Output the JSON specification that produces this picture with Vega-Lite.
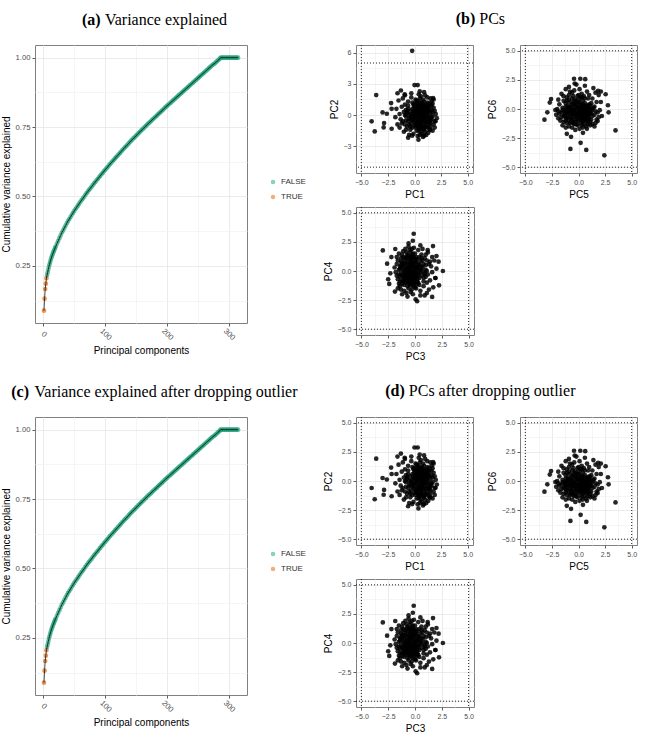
{
  "$schema": "https://vega.github.io/schema/vega-lite/v6.json",
  "padding": {"left": 0, "top": 11, "right": 5, "bottom": 5},
  "background": "white",
  "datasets": {
    "cut": [{"v": -5}, {"v": 5}],
    "cumvar": [
      {"k":1,"v":0.089,"flag":"TRUE"},{"k":2,"v":0.132,"flag":"TRUE"},{"k":3,"v":0.167,"flag":"TRUE"},{"k":4,"v":0.186,"flag":"TRUE"},{"k":5,"v":0.206,"flag":"TRUE"},
      {"k":6,"v":0.217,"flag":"FALSE"},{"k":7,"v":0.227,"flag":"FALSE"},{"k":8,"v":0.237,"flag":"FALSE"},{"k":9,"v":0.247,"flag":"FALSE"},{"k":10,"v":0.256,"flag":"FALSE"},
      {"k":11,"v":0.264,"flag":"FALSE"},{"k":12,"v":0.272,"flag":"FALSE"},{"k":13,"v":0.279,"flag":"FALSE"},{"k":14,"v":0.286,"flag":"FALSE"},{"k":15,"v":0.292,"flag":"FALSE"},
      {"k":16,"v":0.298,"flag":"FALSE"},{"k":17,"v":0.304,"flag":"FALSE"},{"k":18,"v":0.309,"flag":"FALSE"},{"k":19,"v":0.315,"flag":"FALSE"},{"k":20,"v":0.320,"flag":"FALSE"},
      {"k":22,"v":0.330,"flag":"FALSE"},{"k":24,"v":0.340,"flag":"FALSE"},{"k":26,"v":0.350,"flag":"FALSE"},{"k":28,"v":0.360,"flag":"FALSE"},{"k":30,"v":0.370,"flag":"FALSE"},
      {"k":32,"v":0.378,"flag":"FALSE"},{"k":34,"v":0.387,"flag":"FALSE"},{"k":36,"v":0.395,"flag":"FALSE"},{"k":38,"v":0.404,"flag":"FALSE"},{"k":40,"v":0.412,"flag":"FALSE"},
      {"k":42,"v":0.419,"flag":"FALSE"},{"k":44,"v":0.426,"flag":"FALSE"},{"k":46,"v":0.434,"flag":"FALSE"},{"k":48,"v":0.441,"flag":"FALSE"},{"k":50,"v":0.448,"flag":"FALSE"},
      {"k":52,"v":0.455,"flag":"FALSE"},{"k":54,"v":0.461,"flag":"FALSE"},{"k":56,"v":0.468,"flag":"FALSE"},{"k":58,"v":0.474,"flag":"FALSE"},{"k":60,"v":0.481,"flag":"FALSE"},
      {"k":62,"v":0.487,"flag":"FALSE"},{"k":64,"v":0.493,"flag":"FALSE"},{"k":66,"v":0.499,"flag":"FALSE"},{"k":68,"v":0.506,"flag":"FALSE"},{"k":70,"v":0.512,"flag":"FALSE"},
      {"k":72,"v":0.518,"flag":"FALSE"},{"k":74,"v":0.524,"flag":"FALSE"},{"k":76,"v":0.529,"flag":"FALSE"},{"k":78,"v":0.535,"flag":"FALSE"},{"k":80,"v":0.541,"flag":"FALSE"},
      {"k":82,"v":0.547,"flag":"FALSE"},{"k":84,"v":0.552,"flag":"FALSE"},{"k":86,"v":0.558,"flag":"FALSE"},{"k":88,"v":0.563,"flag":"FALSE"},{"k":90,"v":0.569,"flag":"FALSE"},
      {"k":92,"v":0.574,"flag":"FALSE"},{"k":94,"v":0.580,"flag":"FALSE"},{"k":96,"v":0.585,"flag":"FALSE"},{"k":98,"v":0.591,"flag":"FALSE"},{"k":100,"v":0.596,"flag":"FALSE"},
      {"k":102,"v":0.601,"flag":"FALSE"},{"k":104,"v":0.606,"flag":"FALSE"},{"k":106,"v":0.612,"flag":"FALSE"},{"k":108,"v":0.617,"flag":"FALSE"},{"k":110,"v":0.622,"flag":"FALSE"},
      {"k":112,"v":0.627,"flag":"FALSE"},{"k":114,"v":0.632,"flag":"FALSE"},{"k":116,"v":0.637,"flag":"FALSE"},{"k":118,"v":0.642,"flag":"FALSE"},{"k":120,"v":0.647,"flag":"FALSE"},
      {"k":122,"v":0.652,"flag":"FALSE"},{"k":124,"v":0.657,"flag":"FALSE"},{"k":126,"v":0.662,"flag":"FALSE"},{"k":128,"v":0.667,"flag":"FALSE"},{"k":130,"v":0.672,"flag":"FALSE"},
      {"k":132,"v":0.677,"flag":"FALSE"},{"k":134,"v":0.681,"flag":"FALSE"},{"k":136,"v":0.686,"flag":"FALSE"},{"k":138,"v":0.691,"flag":"FALSE"},{"k":140,"v":0.696,"flag":"FALSE"},
      {"k":142,"v":0.701,"flag":"FALSE"},{"k":144,"v":0.705,"flag":"FALSE"},{"k":146,"v":0.710,"flag":"FALSE"},{"k":148,"v":0.714,"flag":"FALSE"},{"k":150,"v":0.719,"flag":"FALSE"},
      {"k":152,"v":0.723,"flag":"FALSE"},{"k":154,"v":0.728,"flag":"FALSE"},{"k":156,"v":0.732,"flag":"FALSE"},{"k":158,"v":0.737,"flag":"FALSE"},{"k":160,"v":0.741,"flag":"FALSE"},
      {"k":162,"v":0.745,"flag":"FALSE"},{"k":164,"v":0.750,"flag":"FALSE"},{"k":166,"v":0.754,"flag":"FALSE"},{"k":168,"v":0.759,"flag":"FALSE"},{"k":170,"v":0.763,"flag":"FALSE"},
      {"k":172,"v":0.767,"flag":"FALSE"},{"k":174,"v":0.771,"flag":"FALSE"},{"k":176,"v":0.776,"flag":"FALSE"},{"k":178,"v":0.780,"flag":"FALSE"},{"k":180,"v":0.784,"flag":"FALSE"},
      {"k":182,"v":0.788,"flag":"FALSE"},{"k":184,"v":0.792,"flag":"FALSE"},{"k":186,"v":0.797,"flag":"FALSE"},{"k":188,"v":0.801,"flag":"FALSE"},{"k":190,"v":0.805,"flag":"FALSE"},
      {"k":192,"v":0.809,"flag":"FALSE"},{"k":194,"v":0.813,"flag":"FALSE"},{"k":196,"v":0.818,"flag":"FALSE"},{"k":198,"v":0.822,"flag":"FALSE"},{"k":200,"v":0.826,"flag":"FALSE"},
      {"k":202,"v":0.830,"flag":"FALSE"},{"k":204,"v":0.834,"flag":"FALSE"},{"k":206,"v":0.838,"flag":"FALSE"},{"k":208,"v":0.842,"flag":"FALSE"},{"k":210,"v":0.846,"flag":"FALSE"},
      {"k":212,"v":0.850,"flag":"FALSE"},{"k":214,"v":0.854,"flag":"FALSE"},{"k":216,"v":0.858,"flag":"FALSE"},{"k":218,"v":0.862,"flag":"FALSE"},{"k":220,"v":0.866,"flag":"FALSE"},
      {"k":222,"v":0.870,"flag":"FALSE"},{"k":224,"v":0.874,"flag":"FALSE"},{"k":226,"v":0.878,"flag":"FALSE"},{"k":228,"v":0.882,"flag":"FALSE"},{"k":230,"v":0.886,"flag":"FALSE"},
      {"k":232,"v":0.890,"flag":"FALSE"},{"k":234,"v":0.894,"flag":"FALSE"},{"k":236,"v":0.898,"flag":"FALSE"},{"k":238,"v":0.902,"flag":"FALSE"},{"k":240,"v":0.906,"flag":"FALSE"},
      {"k":242,"v":0.910,"flag":"FALSE"},{"k":244,"v":0.914,"flag":"FALSE"},{"k":246,"v":0.918,"flag":"FALSE"},{"k":248,"v":0.922,"flag":"FALSE"},{"k":250,"v":0.926,"flag":"FALSE"},
      {"k":252,"v":0.930,"flag":"FALSE"},{"k":254,"v":0.934,"flag":"FALSE"},{"k":256,"v":0.938,"flag":"FALSE"},{"k":258,"v":0.942,"flag":"FALSE"},{"k":260,"v":0.946,"flag":"FALSE"},
      {"k":262,"v":0.950,"flag":"FALSE"},{"k":264,"v":0.954,"flag":"FALSE"},{"k":266,"v":0.958,"flag":"FALSE"},{"k":268,"v":0.962,"flag":"FALSE"},{"k":270,"v":0.966,"flag":"FALSE"},
      {"k":272,"v":0.970,"flag":"FALSE"},{"k":274,"v":0.974,"flag":"FALSE"},{"k":276,"v":0.977,"flag":"FALSE"},{"k":278,"v":0.981,"flag":"FALSE"},{"k":280,"v":0.985,"flag":"FALSE"},
      {"k":282,"v":0.989,"flag":"FALSE"},{"k":284,"v":0.993,"flag":"FALSE"},{"k":286,"v":0.997,"flag":"FALSE"},{"k":287,"v":1.0,"flag":"FALSE"},
      {"k":289,"v":1.0,"flag":"FALSE"},{"k":291,"v":1.0,"flag":"FALSE"},{"k":293,"v":1.0,"flag":"FALSE"},{"k":295,"v":1.0,"flag":"FALSE"},{"k":297,"v":1.0,"flag":"FALSE"},
      {"k":299,"v":1.0,"flag":"FALSE"},{"k":301,"v":1.0,"flag":"FALSE"},{"k":303,"v":1.0,"flag":"FALSE"},{"k":305,"v":1.0,"flag":"FALSE"},{"k":307,"v":1.0,"flag":"FALSE"},
      {"k":309,"v":1.0,"flag":"FALSE"},{"k":311,"v":1.0,"flag":"FALSE"},{"k":313,"v":1.0,"flag":"FALSE"},{"k":315,"v":1.0,"flag":"FALSE"}
    ],
    "pcs": [
      {"PC1":0.3,"PC2":0.1,"PC3":-0.1,"PC4":-0.1,"PC5":0.1,"PC6":0},
      {"PC1":0.5,"PC2":-0.4,"PC3":-0.3,"PC4":0.4,"PC5":-0.4,"PC6":-0.2},
      {"PC1":-0.2,"PC2":0.6,"PC3":0.4,"PC4":-0.6,"PC5":0.6,"PC6":0.5},
      {"PC1":0.8,"PC2":0.2,"PC3":-0.6,"PC4":-0.2,"PC5":0.2,"PC6":-0.5},
      {"PC1":1.1,"PC2":-0.7,"PC3":-0.9,"PC4":0.7,"PC5":-0.7,"PC6":-0.8},
      {"PC1":0,"PC2":-1,"PC3":0.2,"PC4":1,"PC5":-1,"PC6":0.3},
      {"PC1":0.6,"PC2":1.1,"PC3":-0.4,"PC4":-1.1,"PC5":1.1,"PC6":-0.3},
      {"PC1":-0.5,"PC2":-0.3,"PC3":0.7,"PC4":0.3,"PC5":-0.3,"PC6":0.8},
      {"PC1":1.4,"PC2":0.4,"PC3":-1.2,"PC4":-0.4,"PC5":0.4,"PC6":-1.1},
      {"PC1":0.2,"PC2":-1.5,"PC3":0,"PC4":1.5,"PC5":-1.5,"PC6":0.1},
      {"PC1":0.9,"PC2":0.9,"PC3":-0.7,"PC4":-0.9,"PC5":0.9,"PC6":-0.6},
      {"PC1":-0.8,"PC2":0.5,"PC3":1,"PC4":-0.5,"PC5":0.5,"PC6":1.1},
      {"PC1":0.4,"PC2":-0.1,"PC3":-0.2,"PC4":0.1,"PC5":-0.1,"PC6":-0.1},
      {"PC1":1.6,"PC2":-0.2,"PC3":-1.4,"PC4":0.2,"PC5":-0.2,"PC6":-1.3},
      {"PC1":-0.3,"PC2":-0.8,"PC3":0.5,"PC4":0.8,"PC5":-0.8,"PC6":0.6},
      {"PC1":0.7,"PC2":-1.2,"PC3":-0.5,"PC4":1.2,"PC5":-1.2,"PC6":-0.4},
      {"PC1":0.1,"PC2":1.5,"PC3":0.1,"PC4":-1.5,"PC5":1.5,"PC6":0.2},
      {"PC1":1.2,"PC2":1.2,"PC3":-1,"PC4":-1.2,"PC5":1.2,"PC6":-0.9},
      {"PC1":-1.1,"PC2":-0.6,"PC3":1.3,"PC4":0.6,"PC5":-0.6,"PC6":1.4},
      {"PC1":0.5,"PC2":0.5,"PC3":-0.3,"PC4":-0.5,"PC5":0.5,"PC6":-0.2},
      {"PC1":1.8,"PC2":0.7,"PC3":-1.6,"PC4":-0.7,"PC5":0.7,"PC6":-1.5},
      {"PC1":-0.6,"PC2":1.3,"PC3":0.8,"PC4":-1.3,"PC5":1.3,"PC6":0.9},
      {"PC1":0.3,"PC2":-0.6,"PC3":-0.1,"PC4":0.6,"PC5":-0.6,"PC6":0},
      {"PC1":1,"PC2":-1.6,"PC3":-0.8,"PC4":1.6,"PC5":-1.6,"PC6":-0.7},
      {"PC1":-0.1,"PC2":0.2,"PC3":0.3,"PC4":-0.2,"PC5":0.2,"PC6":0.4},
      {"PC1":0.8,"PC2":-0.3,"PC3":-0.6,"PC4":0.3,"PC5":-0.3,"PC6":-0.5},
      {"PC1":1.5,"PC2":-1.1,"PC3":-1.3,"PC4":1.1,"PC5":-1.1,"PC6":-1.2},
      {"PC1":-1.4,"PC2":0.1,"PC3":1.6,"PC4":-0.1,"PC5":0.1,"PC6":1.7},
      {"PC1":0.6,"PC2":1.8,"PC3":-0.4,"PC4":-1.8,"PC5":1.8,"PC6":-0.3},
      {"PC1":0.2,"PC2":0.9,"PC3":0,"PC4":-0.9,"PC5":0.9,"PC6":0.1},
      {"PC1":1.3,"PC2":0,"PC3":-1.1,"PC4":0,"PC5":0,"PC6":-1},
      {"PC1":-0.4,"PC2":-1.4,"PC3":0.6,"PC4":1.4,"PC5":-1.4,"PC6":0.7},
      {"PC1":0.9,"PC2":-0.8,"PC3":-0.7,"PC4":0.8,"PC5":-0.8,"PC6":-0.6},
      {"PC1":1.9,"PC2":-0.6,"PC3":-1.7,"PC4":0.6,"PC5":-0.6,"PC6":-1.6},
      {"PC1":-0.9,"PC2":1,"PC3":1.1,"PC4":-1,"PC5":1,"PC6":1.2},
      {"PC1":0.4,"PC2":2,"PC3":-0.2,"PC4":-2,"PC5":2,"PC6":-0.1},
      {"PC1":1.1,"PC2":0.6,"PC3":-0.9,"PC4":-0.6,"PC5":0.6,"PC6":-0.8},
      {"PC1":-0.2,"PC2":-0.2,"PC3":0.4,"PC4":0.2,"PC5":-0.2,"PC6":0.5},
      {"PC1":0.7,"PC2":0.3,"PC3":-0.5,"PC4":-0.3,"PC5":0.3,"PC6":-0.4},
      {"PC1":1.7,"PC2":1.1,"PC3":-1.5,"PC4":-1.1,"PC5":1.1,"PC6":-1.4},
      {"PC1":-1.6,"PC2":-0.9,"PC3":1.8,"PC4":0.9,"PC5":-0.9,"PC6":1.9},
      {"PC1":0,"PC2":0.7,"PC3":0.2,"PC4":-0.7,"PC5":0.7,"PC6":0.3},
      {"PC1":0.5,"PC2":-1.9,"PC3":-0.3,"PC4":1.9,"PC5":-1.9,"PC6":-0.2},
      {"PC1":1.2,"PC2":-0.4,"PC3":-1,"PC4":0.4,"PC5":-0.4,"PC6":-0.9},
      {"PC1":-0.7,"PC2":-1.1,"PC3":0.9,"PC4":1.1,"PC5":-1.1,"PC6":1},
      {"PC1":0.8,"PC2":1.5,"PC3":-0.6,"PC4":-1.5,"PC5":1.5,"PC6":-0.5},
      {"PC1":1.4,"PC2":-1.4,"PC3":-1.2,"PC4":1.4,"PC5":-1.4,"PC6":-1.1},
      {"PC1":-0.3,"PC2":1.7,"PC3":0.5,"PC4":-1.7,"PC5":1.7,"PC6":0.6},
      {"PC1":0.2,"PC2":-0.3,"PC3":0,"PC4":0.3,"PC5":-0.3,"PC6":0.1},
      {"PC1":1,"PC2":0.1,"PC3":-0.8,"PC4":-0.1,"PC5":0.1,"PC6":-0.7},
      {"PC1":-1.2,"PC2":0.8,"PC3":1.4,"PC4":-0.8,"PC5":0.8,"PC6":1.5},
      {"PC1":0.6,"PC2":-0.9,"PC3":-0.4,"PC4":0.9,"PC5":-0.9,"PC6":-0.3},
      {"PC1":1.6,"PC2":0.5,"PC3":-1.4,"PC4":-0.5,"PC5":0.5,"PC6":-1.3},
      {"PC1":-0.5,"PC2":0,"PC3":0.7,"PC4":0,"PC5":0,"PC6":0.8},
      {"PC1":0.3,"PC2":1.2,"PC3":-0.1,"PC4":-1.2,"PC5":1.2,"PC6":0},
      {"PC1":1.1,"PC2":-1.9,"PC3":-0.9,"PC4":1.9,"PC5":-1.9,"PC6":-0.8},
      {"PC1":-1,"PC2":-1.6,"PC3":1.2,"PC4":1.6,"PC5":-1.6,"PC6":1.3},
      {"PC1":0.9,"PC2":2.2,"PC3":-0.7,"PC4":-2.2,"PC5":2.2,"PC6":-0.6},
      {"PC1":1.8,"PC2":-0.9,"PC3":-1.6,"PC4":0.9,"PC5":-0.9,"PC6":-1.5},
      {"PC1":0.1,"PC2":-1.2,"PC3":0.1,"PC4":1.2,"PC5":-1.2,"PC6":0.2},
      {"PC1":-0.8,"PC2":-0.1,"PC3":1,"PC4":0.1,"PC5":-0.1,"PC6":1.1},
      {"PC1":0.4,"PC2":0.4,"PC3":-0.2,"PC4":-0.4,"PC5":0.4,"PC6":-0.1},
      {"PC1":1.3,"PC2":0.9,"PC3":-1.1,"PC4":-0.9,"PC5":0.9,"PC6":-1},
      {"PC1":-1.5,"PC2":1.4,"PC3":1.7,"PC4":-1.4,"PC5":1.4,"PC6":1.8},
      {"PC1":0.7,"PC2":-0.5,"PC3":-0.5,"PC4":0.5,"PC5":-0.5,"PC6":-0.4},
      {"PC1":2,"PC2":0.1,"PC3":-1.8,"PC4":-0.1,"PC5":0.1,"PC6":-1.7},
      {"PC1":-0.1,"PC2":-1.8,"PC3":0.3,"PC4":1.8,"PC5":-1.8,"PC6":0.4},
      {"PC1":1,"PC2":1.9,"PC3":-0.8,"PC4":-1.9,"PC5":1.9,"PC6":-0.7},
      {"PC1":0.5,"PC2":-1.3,"PC3":-0.3,"PC4":1.3,"PC5":-1.3,"PC6":-0.2},
      {"PC1":-0.6,"PC2":0.9,"PC3":0.8,"PC4":-0.9,"PC5":0.9,"PC6":0.9},
      {"PC1":1.5,"PC2":1.6,"PC3":-1.3,"PC4":-1.6,"PC5":1.6,"PC6":-1.2},
      {"PC1":0.2,"PC2":0,"PC3":0,"PC4":0,"PC5":0,"PC6":0.1},
      {"PC1":-1.3,"PC2":-0.4,"PC3":1.5,"PC4":0.4,"PC5":-0.4,"PC6":1.6},
      {"PC1":0.8,"PC2":-2.1,"PC3":-0.6,"PC4":2.1,"PC5":-2.1,"PC6":-0.5},
      {"PC1":1.2,"PC2":0.3,"PC3":-1,"PC4":-0.3,"PC5":0.3,"PC6":-0.9},
      {"PC1":-0.4,"PC2":0.4,"PC3":0.6,"PC4":-0.4,"PC5":0.4,"PC6":0.7},
      {"PC1":0.6,"PC2":-0.1,"PC3":-0.4,"PC4":0.1,"PC5":-0.1,"PC6":-0.3},
      {"PC1":1.9,"PC2":0.4,"PC3":-1.7,"PC4":-0.4,"PC5":0.4,"PC6":-1.6},
      {"PC1":-0.9,"PC2":-0.9,"PC3":1.1,"PC4":0.9,"PC5":-0.9,"PC6":1.2},
      {"PC1":0,"PC2":1.1,"PC3":0.2,"PC4":-1.1,"PC5":1.1,"PC6":0.3},
      {"PC1":1.4,"PC2":-0.7,"PC3":-1.2,"PC4":0.7,"PC5":-0.7,"PC6":-1.1},
      {"PC1":0.3,"PC2":-2,"PC3":-0.1,"PC4":2,"PC5":-2,"PC6":0},
      {"PC1":-1.7,"PC2":0.6,"PC3":1.9,"PC4":-0.6,"PC5":0.6,"PC6":2},
      {"PC1":0.9,"PC2":0.6,"PC3":-0.7,"PC4":-0.6,"PC5":0.6,"PC6":-0.6},
      {"PC1":1.7,"PC2":-1.5,"PC3":-1.5,"PC4":1.5,"PC5":-1.5,"PC6":-1.4},
      {"PC1":-0.2,"PC2":-0.5,"PC3":0.4,"PC4":0.5,"PC5":-0.5,"PC6":0.5},
      {"PC1":0.5,"PC2":1.6,"PC3":-0.3,"PC4":-1.6,"PC5":1.6,"PC6":-0.2},
      {"PC1":1.1,"PC2":-1.1,"PC3":-0.9,"PC4":1.1,"PC5":-1.1,"PC6":-0.8},
      {"PC1":-1.1,"PC2":1.6,"PC3":1.3,"PC4":-1.6,"PC5":1.6,"PC6":1.4},
      {"PC1":0.7,"PC2":0,"PC3":-0.5,"PC4":0,"PC5":0,"PC6":-0.4},
      {"PC1":1.6,"PC2":1.3,"PC3":-1.4,"PC4":-1.3,"PC5":1.3,"PC6":-1.3},
      {"PC1":-0.5,"PC2":-1.9,"PC3":0.7,"PC4":1.9,"PC5":-1.9,"PC6":0.8},
      {"PC1":0.4,"PC2":-0.7,"PC3":-0.2,"PC4":0.7,"PC5":-0.7,"PC6":-0.1},
      {"PC1":1.3,"PC2":-1.2,"PC3":-1.1,"PC4":1.2,"PC5":-1.2,"PC6":-1},
      {"PC1":-0.7,"PC2":0.2,"PC3":0.9,"PC4":-0.2,"PC5":0.2,"PC6":1},
      {"PC1":0.1,"PC2":0.5,"PC3":0.1,"PC4":-0.5,"PC5":0.5,"PC6":0.2},
      {"PC1":2.1,"PC2":-0.3,"PC3":-1.9,"PC4":0.3,"PC5":-0.3,"PC6":-1.8},
      {"PC1":0.8,"PC2":1,"PC3":-0.6,"PC4":-1,"PC5":1,"PC6":-0.5},
      {"PC1":-1.8,"PC2":-0.2,"PC3":2,"PC4":0.2,"PC5":-0.2,"PC6":2.1},
      {"PC1":0.6,"PC2":-1.6,"PC3":-0.4,"PC4":1.6,"PC5":-1.6,"PC6":-0.3},
      {"PC1":1,"PC2":-0.2,"PC3":-0.8,"PC4":0.2,"PC5":-0.2,"PC6":-0.7},
      {"PC1":-0.3,"PC2":2.1,"PC3":0.5,"PC4":-2.1,"PC5":2.1,"PC6":0.6},
      {"PC1":1.5,"PC2":0.2,"PC3":-1.3,"PC4":-0.2,"PC5":0.2,"PC6":-1.2},
      {"PC1":0.2,"PC2":-1,"PC3":0,"PC4":1,"PC5":-1,"PC6":0.1},
      {"PC1":-1,"PC2":0.3,"PC3":1.2,"PC4":-0.3,"PC5":0.3,"PC6":1.3},
      {"PC1":0.9,"PC2":-1.4,"PC3":-0.7,"PC4":1.4,"PC5":-1.4,"PC6":-0.6},
      {"PC1":1.8,"PC2":1.5,"PC3":-1.6,"PC4":-1.5,"PC5":1.5,"PC6":-1.5},
      {"PC1":-0.6,"PC2":-0.6,"PC3":0.8,"PC4":0.6,"PC5":-0.6,"PC6":0.9},
      {"PC1":0.3,"PC2":0.8,"PC3":-0.1,"PC4":-0.8,"PC5":0.8,"PC6":0},
      {"PC1":1.2,"PC2":1.7,"PC3":-1,"PC4":-1.7,"PC5":1.7,"PC6":-0.9},
      {"PC1":-1.4,"PC2":-1.2,"PC3":1.6,"PC4":1.2,"PC5":-1.2,"PC6":1.7},
      {"PC1":0.7,"PC2":-1.8,"PC3":-0.5,"PC4":1.8,"PC5":-1.8,"PC6":-0.4},
      {"PC1":1.4,"PC2":0.8,"PC3":-1.2,"PC4":-0.8,"PC5":0.8,"PC6":-1.1},
      {"PC1":0,"PC2":-0.4,"PC3":0.2,"PC4":0.4,"PC5":-0.4,"PC6":0.3},
      {"PC1":-0.9,"PC2":1.9,"PC3":1.1,"PC4":-1.9,"PC5":1.9,"PC6":1.2},
      {"PC1":1.1,"PC2":0.4,"PC3":-0.9,"PC4":-0.4,"PC5":0.4,"PC6":-0.8},
      {"PC1":0.5,"PC2":0.2,"PC3":-0.3,"PC4":-0.2,"PC5":0.2,"PC6":-0.2},
      {"PC1":1.7,"PC2":-0.1,"PC3":-1.5,"PC4":0.1,"PC5":-0.1,"PC6":-1.4},
      {"PC1":-0.4,"PC2":-1.1,"PC3":0.6,"PC4":1.1,"PC5":-1.1,"PC6":0.7},
      {"PC1":0.8,"PC2":-0.6,"PC3":-0.6,"PC4":0.6,"PC5":-0.6,"PC6":-0.5},
      {"PC1":0.2,"PC2":1.4,"PC3":0,"PC4":-1.4,"PC5":1.4,"PC6":0.1},
      {"PC1":1.3,"PC2":-1.7,"PC3":-1.1,"PC4":1.7,"PC5":-1.7,"PC6":-1},
      {"PC1":-1.2,"PC2":-0.8,"PC3":1.4,"PC4":0.8,"PC5":-0.8,"PC6":1.5},
      {"PC1":1,"PC2":0.8,"PC3":-0.8,"PC4":-0.8,"PC5":0.8,"PC6":-0.7},
      {"PC1":0.4,"PC2":-1.5,"PC3":-0.2,"PC4":1.5,"PC5":-1.5,"PC6":-0.1},
      {"PC1":-0.1,"PC2":1,"PC3":0.3,"PC4":-1,"PC5":1,"PC6":0.4},
      {"PC1":1.9,"PC2":-1.2,"PC3":-1.7,"PC4":1.2,"PC5":-1.2,"PC6":-1.6},
      {"PC1":0.6,"PC2":0.7,"PC3":-0.4,"PC4":-0.7,"PC5":0.7,"PC6":-0.3},
      {"PC1":-0.8,"PC2":-1.4,"PC3":1,"PC4":1.4,"PC5":-1.4,"PC6":1.1},
      {"PC1":1.5,"PC2":-0.5,"PC3":-1.3,"PC4":0.5,"PC5":-0.5,"PC6":-1.2},
      {"PC1":0.1,"PC2":0.3,"PC3":0.1,"PC4":-0.3,"PC5":0.3,"PC6":0.2},
      {"PC1":0.6,"PC2":0.4,"PC3":-0.4,"PC4":-0.4,"PC5":0.4,"PC6":-0.3},
      {"PC1":0.9,"PC2":-0.1,"PC3":-0.7,"PC4":0.1,"PC5":-0.1,"PC6":-0.6},
      {"PC1":0.4,"PC2":0.7,"PC3":-0.2,"PC4":-0.7,"PC5":0.7,"PC6":-0.1},
      {"PC1":-0.1,"PC2":-0.6,"PC3":0.3,"PC4":0.6,"PC5":-0.6,"PC6":0.4},
      {"PC1":1,"PC2":-0.5,"PC3":-0.8,"PC4":0.5,"PC5":-0.5,"PC6":-0.7},
      {"PC1":0.5,"PC2":-0.8,"PC3":-0.3,"PC4":0.8,"PC5":-0.8,"PC6":-0.2},
      {"PC1":0.2,"PC2":0.6,"PC3":0,"PC4":-0.6,"PC5":0.6,"PC6":0.1},
      {"PC1":1.3,"PC2":0.5,"PC3":-1.1,"PC4":-0.5,"PC5":0.5,"PC6":-1},
      {"PC1":-0.3,"PC2":0.1,"PC3":0.5,"PC4":-0.1,"PC5":0.1,"PC6":0.6},
      {"PC1":0.7,"PC2":0.8,"PC3":-0.5,"PC4":-0.8,"PC5":0.8,"PC6":-0.4},
      {"PC1":0,"PC2":-0.2,"PC3":0.2,"PC4":0.2,"PC5":-0.2,"PC6":0.3},
      {"PC1":1.1,"PC2":0.2,"PC3":-0.9,"PC4":-0.2,"PC5":0.2,"PC6":-0.8},
      {"PC1":0.3,"PC2":-1.1,"PC3":-0.1,"PC4":1.1,"PC5":-1.1,"PC6":0},
      {"PC1":0.8,"PC2":-1,"PC3":-0.6,"PC4":1,"PC5":-1,"PC6":-0.5},
      {"PC1":-0.4,"PC2":-0.4,"PC3":0.6,"PC4":0.4,"PC5":-0.4,"PC6":0.7},
      {"PC1":0.6,"PC2":0.1,"PC3":-0.4,"PC4":-0.1,"PC5":0.1,"PC6":-0.3},
      {"PC1":1.4,"PC2":-0.3,"PC3":-1.2,"PC4":0.3,"PC5":-0.3,"PC6":-1.1},
      {"PC1":0.2,"PC2":1,"PC3":0,"PC4":-1,"PC5":1,"PC6":0.1},
      {"PC1":-0.6,"PC2":0.6,"PC3":0.8,"PC4":-0.6,"PC5":0.6,"PC6":0.9},
      {"PC1":0.9,"PC2":1.3,"PC3":-0.7,"PC4":-1.3,"PC5":1.3,"PC6":-0.6},
      {"PC1":0.4,"PC2":-0.4,"PC3":-0.2,"PC4":0.4,"PC5":-0.4,"PC6":-0.1},
      {"PC1":1.2,"PC2":-0.9,"PC3":-1,"PC4":0.9,"PC5":-0.9,"PC6":-0.9},
      {"PC1":0.1,"PC2":-0.8,"PC3":0.1,"PC4":0.8,"PC5":-0.8,"PC6":0.2},
      {"PC1":-0.2,"PC2":1.2,"PC3":0.4,"PC4":-1.2,"PC5":1.2,"PC6":0.5},
      {"PC1":0.7,"PC2":-0.3,"PC3":-0.5,"PC4":0.3,"PC5":-0.3,"PC6":-0.4},
      {"PC1":1.6,"PC2":0.9,"PC3":-1.4,"PC4":-0.9,"PC5":0.9,"PC6":-1.3},
      {"PC1":0.5,"PC2":1,"PC3":-0.3,"PC4":-1,"PC5":1,"PC6":-0.2},
      {"PC1":-0.8,"PC2":-0.5,"PC3":1,"PC4":0.5,"PC5":-0.5,"PC6":1.1},
      {"PC1":1,"PC2":0.5,"PC3":-0.8,"PC4":-0.5,"PC5":0.5,"PC6":-0.7},
      {"PC1":0.3,"PC2":0.3,"PC3":-0.1,"PC4":-0.3,"PC5":0.3,"PC6":0},
      {"PC1":0.8,"PC2":-1.3,"PC3":-0.6,"PC4":1.3,"PC5":-1.3,"PC6":-0.5},
      {"PC1":1.5,"PC2":-0.8,"PC3":-1.3,"PC4":0.8,"PC5":-0.8,"PC6":-1.2},
      {"PC1":-0.1,"PC2":0.4,"PC3":0.3,"PC4":-0.4,"PC5":0.4,"PC6":0.4},
      {"PC1":0.6,"PC2":-0.6,"PC3":-0.4,"PC4":0.6,"PC5":-0.6,"PC6":-0.3},
      {"PC1":1.2,"PC2":0.7,"PC3":-1,"PC4":-0.7,"PC5":0.7,"PC6":-0.9},
      {"PC1":0,"PC2":0.9,"PC3":0.2,"PC4":-0.9,"PC5":0.9,"PC6":0.3},
      {"PC1":0.4,"PC2":-1.2,"PC3":-0.2,"PC4":1.2,"PC5":-1.2,"PC6":-0.1},
      {"PC1":1.7,"PC2":0.3,"PC3":-1.5,"PC4":-0.3,"PC5":0.3,"PC6":-1.4},
      {"PC1":-0.5,"PC2":-0.9,"PC3":0.7,"PC4":0.9,"PC5":-0.9,"PC6":0.8},
      {"PC1":0.9,"PC2":0.3,"PC3":-0.7,"PC4":-0.3,"PC5":0.3,"PC6":-0.6},
      {"PC1":0.2,"PC2":-0.7,"PC3":0,"PC4":0.7,"PC5":-0.7,"PC6":0.1},
      {"PC1":1.1,"PC2":1,"PC3":-0.9,"PC4":-1,"PC5":1,"PC6":-0.8},
      {"PC1":-0.3,"PC2":-0.1,"PC3":0.5,"PC4":0.1,"PC5":-0.1,"PC6":0.6},
      {"PC1":0.5,"PC2":0.8,"PC3":-0.3,"PC4":-0.8,"PC5":0.8,"PC6":-0.2},
      {"PC1":1.3,"PC2":-0.6,"PC3":-1.1,"PC4":0.6,"PC5":-0.6,"PC6":-1},
      {"PC1":0.1,"PC2":-0.1,"PC3":0.1,"PC4":0.1,"PC5":-0.1,"PC6":0.2},
      {"PC1":0.7,"PC2":1.2,"PC3":-0.5,"PC4":-1.2,"PC5":1.2,"PC6":-0.4},
      {"PC1":1,"PC2":-1.2,"PC3":-0.8,"PC4":1.2,"PC5":-1.2,"PC6":-0.7},
      {"PC1":-0.7,"PC2":0.3,"PC3":0.9,"PC4":-0.3,"PC5":0.3,"PC6":1},
      {"PC1":0.6,"PC2":-1.1,"PC3":-0.4,"PC4":1.1,"PC5":-1.1,"PC6":-0.3},
      {"PC1":1.4,"PC2":1.1,"PC3":-1.2,"PC4":-1.1,"PC5":1.1,"PC6":-1.1},
      {"PC1":0.3,"PC2":0.5,"PC3":-0.1,"PC4":-0.5,"PC5":0.5,"PC6":0},
      {"PC1":-0.2,"PC2":-1.2,"PC3":0.4,"PC4":1.2,"PC5":-1.2,"PC6":0.5},
      {"PC1":0.8,"PC2":0.6,"PC3":-0.6,"PC4":-0.6,"PC5":0.6,"PC6":-0.5},
      {"PC1":1.2,"PC2":-0.1,"PC3":-1,"PC4":0.1,"PC5":-0.1,"PC6":-0.9},
      {"PC1":0.4,"PC2":1.3,"PC3":-0.2,"PC4":-1.3,"PC5":1.3,"PC6":-0.1},
      {"PC1":-0.9,"PC2":0,"PC3":1.1,"PC4":0,"PC5":0,"PC6":1.2},
      {"PC1":1.6,"PC2":-0.4,"PC3":-1.4,"PC4":0.4,"PC5":-0.4,"PC6":-1.3},
      {"PC1":0,"PC2":0.2,"PC3":0.2,"PC4":-0.2,"PC5":0.2,"PC6":0.3},
      {"PC1":-0.22,"PC2":6.17,"PC3":0.1,"PC4":0.3,"PC5":0.2,"PC6":-0.1},
      {"PC1":-3.6,"PC2":1.92,"PC3":-3.0,"PC4":1.77,"PC5":-2.93,"PC6":-0.29},
      {"PC1":-4.03,"PC2":-0.6,"PC3":-0.6,"PC4":2.37,"PC5":-2.7,"PC6":0.55},
      {"PC1":-3.74,"PC2":-1.57,"PC3":1.68,"PC4":2.14,"PC5":-2.58,"PC6":0.86},
      {"PC1":-2.86,"PC2":-0.77,"PC3":2.0,"PC4":1.29,"PC5":-2.18,"PC6":-0.09},
      {"PC1":-2.9,"PC2":-1.18,"PC3":2.6,"PC4":0.0,"PC5":3.48,"PC6":-1.84},
      {"PC1":-2.15,"PC2":-1.31,"PC3":2.24,"PC4":-1.23,"PC5":2.43,"PC6":-3.98},
      {"PC1":-3.0,"PC2":0.26,"PC3":1.6,"PC4":-2.23,"PC5":-0.76,"PC6":-3.43},
      {"PC1":-2.6,"PC2":0.13,"PC3":0.06,"PC4":-2.43,"PC5":0.73,"PC6":-3.52},
      {"PC1":-2.2,"PC2":1.15,"PC3":-1.87,"PC4":-1.77,"PC5":0.2,"PC6":-2.91},
      {"PC1":-2.15,"PC2":0.6,"PC3":-2.5,"PC4":-0.71,"PC5":-0.42,"PC6":2.6},
      {"PC1":-1.6,"PC2":2.1,"PC3":-2.4,"PC4":-1.11,"PC5":0.17,"PC6":2.6},
      {"PC1":-1.28,"PC2":2.36,"PC3":-2.6,"PC4":0.63,"PC5":0.63,"PC6":2.56},
      {"PC1":-0.92,"PC2":2.0,"PC3":-1.84,"PC4":1.89,"PC5":-0.36,"PC6":2.19},
      {"PC1":0.0,"PC2":2.88,"PC3":1.18,"PC4":1.8,"PC5":2.83,"PC6":-0.29},
      {"PC1":0.3,"PC2":2.88,"PC3":0.2,"PC4":-2.6,"PC5":2.77,"PC6":0.32},
      {"PC1":0.49,"PC2":2.27,"PC3":-2.2,"PC4":1.2,"PC5":2.55,"PC6":1.27},
      {"PC1":1.75,"PC2":1.63,"PC3":-2.3,"PC4":-0.2,"PC5":1.84,"PC6":1.56},
      {"PC1":1.98,"PC2":-0.58,"PC3":1.9,"PC4":-0.6,"PC5":1.8,"PC6":-1.04},
      {"PC1":1.48,"PC2":-1.4,"PC3":2.2,"PC4":0.8,"PC5":-1.1,"PC6":-2.13},
      {"PC1":0.37,"PC2":-2.36,"PC3":-1.2,"PC4":-2.0,"PC5":-0.7,"PC6":-2.39},
      {"PC1":-0.6,"PC2":-2.17,"PC3":0.9,"PC4":-2.1,"PC5":0.42,"PC6":-2.05},
      {"PC1":-0.22,"PC2":-1.98,"PC3":-0.2,"PC4":2.6,"PC5":0.79,"PC6":-1.7},
      {"PC1":0.9,"PC2":-1.98,"PC3":0.5,"PC4":2.2,"PC5":2.1,"PC6":1.5},
      {"PC1":0.5,"PC2":0.3,"PC3":-0.12,"PC4":3.2,"PC5":-3.2,"PC6":-0.92}
    ]
  },
  "resolve": {"scale": {"color": "independent"}, "legend": {"color": "independent"}},
  "spacing": 21,
  "vconcat": [
    {
      "spacing": 16,
      "resolve": {"scale": {"color": "independent"}, "legend": {"color": "independent"}},
      "hconcat": [
        {
          "title": {"text": "(a)", "fontWeight": "bold", "anchor": "middle", "frame": "bounds", "dx": -62, "offset": -16},
          "vconcat": [
            {
              "title": {"text": "Variance explained", "anchor": "middle", "frame": "bounds", "dx": 42, "offset": 17},
              "vconcat": [
                {
                  "width": 212,
                  "height": 278,
                  "data": {"name": "cumvar"},
                  "encoding": {
                    "x": {"field": "k", "type": "quantitative", "title": "Principal components",
                      "scale": {"domain": [-13.5, 329.5], "nice": false, "zero": false},
                      "axis": {"values": [0, 50, 100, 150, 200, 250, 300], "tickCount": 20, "format": "d",
                        "labelExpr": "datum.value % 100 === 0 ? datum.label : ''",
                        "labelAngle": 45, "labelAlign": "center", "labelBaseline": "middle", "labelPadding": 8,
                        "tickOpacity": {"condition": {"test": "datum.value % 100 === 0", "value": 1}, "value": 0},
                        "gridColor": {"condition": {"test": "datum.value % 100 === 0", "value": "#e6e6e6"}, "value": "#f2f2f2"}}},
                    "y": {"field": "v", "type": "quantitative", "title": "Cumulative variance explained",
                      "scale": {"domain": [0.0445, 1.0455], "nice": false, "zero": false},
                      "axis": {"values": [0.125, 0.25, 0.375, 0.5, 0.625, 0.75, 0.875, 1], "tickCount": 20, "format": ".2f",
                        "labelExpr": "datum.value * 4 % 1 === 0 ? datum.label : ''", "titlePadding": 4,
                        "tickOpacity": {"condition": {"test": "datum.value * 4 % 1 === 0", "value": 1}, "value": 0},
                        "gridColor": {"condition": {"test": "datum.value * 4 % 1 === 0", "value": "#e6e6e6"}, "value": "#f2f2f2"}}}
                  },
                  "layer": [
                    {"mark": {"type": "circle", "size": 22, "opacity": 0.65},
                      "encoding": {"color": {"field": "flag", "type": "nominal",
                        "scale": {"domain": ["FALSE", "TRUE"], "range": ["#1B9E77", "#D95F02"]},
                        "legend": {"title": null, "orient": "none", "legendX": 234, "legendY": 133}}}},
                    {"mark": {"type": "line", "color": "#000000", "strokeWidth": 0.9, "opacity": 0.8}}
                  ]
                }
              ]
            }
          ]
        },
        {
          "title": {"text": "(b)", "fontWeight": "bold", "anchor": "middle", "frame": "bounds", "dx": -14.9, "offset": -16},
          "vconcat": [
            {
              "title": {"text": "PCs", "anchor": "middle", "frame": "bounds", "dx": 11.8, "offset": 17},
              "spacing": 6,
              "vconcat": [
                {
                  "spacing": 12,
                  "hconcat": [
                    {
                      "width": 117, "height": 128,
                      "layer": [
                        {"data": {"name": "pcs"}, "mark": {"type": "circle", "size": 22, "color": "#000000", "opacity": 0.85},
                          "encoding": {
                            "x": {"field": "PC1", "type": "quantitative", "title": "PC1", "scale": {"domain": [-5.5, 5.5], "nice": false, "zero": false},
                              "axis": {"values": [-5, -3.75, -2.5, -1.25, 0, 1.25, 2.5, 3.75, 5], "tickCount": 20, "format": ".1f", "labelFontSize": 7,
                                "labelExpr": "datum.value % 2.5 === 0 ? datum.label : ''",
                                "tickOpacity": {"condition": {"test": "datum.value % 2.5 === 0", "value": 1}, "value": 0},
                                "gridColor": {"condition": {"test": "datum.value % 2.5 === 0", "value": "#e6e6e6"}, "value": "#f2f2f2"}}},
                            "y": {"field": "PC2", "type": "quantitative", "title": "PC2", "scale": {"domain": [-5.56, 6.73], "nice": false, "zero": false},
                              "axis": {"values": [-4.5, -3, -1.5, 0, 1.5, 3, 4.5, 6], "tickCount": 20, "format": ".0f", "labelFontSize": 7,
                                "labelExpr": "datum.value % 3 === 0 ? datum.label : ''",
                                "tickOpacity": {"condition": {"test": "datum.value % 3 === 0", "value": 1}, "value": 0},
                                "gridColor": {"condition": {"test": "datum.value % 3 === 0", "value": "#e6e6e6"}, "value": "#f2f2f2"}}}}},
                        {"data": {"name": "cut"}, "mark": {"type": "rule", "color": "#222222", "strokeWidth": 1, "strokeDash": [1, 2]},
                          "encoding": {"x": {"field": "v", "type": "quantitative", "title": "PC1", "scale": {"domain": [-5.5, 5.5], "nice": false, "zero": false}}}},
                        {"data": {"name": "cut"}, "mark": {"type": "rule", "color": "#222222", "strokeWidth": 1, "strokeDash": [1, 2]},
                          "encoding": {"y": {"field": "v", "type": "quantitative", "title": "PC2", "scale": {"domain": [-5.56, 6.73], "nice": false, "zero": false}}}}
                      ]
                    },
                    {
                      "width": 117, "height": 128,
                      "layer": [
                        {"data": {"name": "pcs"}, "mark": {"type": "circle", "size": 22, "color": "#000000", "opacity": 0.85},
                          "encoding": {
                            "x": {"field": "PC5", "type": "quantitative", "title": "PC5", "scale": {"domain": [-5.5, 5.5], "nice": false, "zero": false},
                              "axis": {"values": [-5, -3.75, -2.5, -1.25, 0, 1.25, 2.5, 3.75, 5], "tickCount": 20, "format": ".1f", "labelFontSize": 7,
                                "labelExpr": "datum.value % 2.5 === 0 ? datum.label : ''",
                                "tickOpacity": {"condition": {"test": "datum.value % 2.5 === 0", "value": 1}, "value": 0},
                                "gridColor": {"condition": {"test": "datum.value % 2.5 === 0", "value": "#e6e6e6"}, "value": "#f2f2f2"}}},
                            "y": {"field": "PC6", "type": "quantitative", "title": "PC6", "scale": {"domain": [-5.5, 5.5], "nice": false, "zero": false},
                              "axis": {"values": [-5, -3.75, -2.5, -1.25, 0, 1.25, 2.5, 3.75, 5], "tickCount": 20, "format": ".1f", "labelFontSize": 7,
                                "labelExpr": "datum.value % 2.5 === 0 ? datum.label : ''",
                                "tickOpacity": {"condition": {"test": "datum.value % 2.5 === 0", "value": 1}, "value": 0},
                                "gridColor": {"condition": {"test": "datum.value % 2.5 === 0", "value": "#e6e6e6"}, "value": "#f2f2f2"}}}}},
                        {"data": {"name": "cut"}, "mark": {"type": "rule", "color": "#222222", "strokeWidth": 1, "strokeDash": [1, 2]},
                          "encoding": {"x": {"field": "v", "type": "quantitative", "title": "PC5", "scale": {"domain": [-5.5, 5.5], "nice": false, "zero": false}}}},
                        {"data": {"name": "cut"}, "mark": {"type": "rule", "color": "#222222", "strokeWidth": 1, "strokeDash": [1, 2]},
                          "encoding": {"y": {"field": "v", "type": "quantitative", "title": "PC6", "scale": {"domain": [-5.5, 5.5], "nice": false, "zero": false}}}}
                      ]
                    }
                  ]
                },
                {
                  "width": 118, "height": 128,
                  "layer": [
                    {"data": {"name": "pcs"}, "mark": {"type": "circle", "size": 22, "color": "#000000", "opacity": 0.85},
                      "encoding": {
                        "x": {"field": "PC3", "type": "quantitative", "title": "PC3", "scale": {"domain": [-5.5, 5.5], "nice": false, "zero": false},
                          "axis": {"values": [-5, -3.75, -2.5, -1.25, 0, 1.25, 2.5, 3.75, 5], "tickCount": 20, "format": ".1f", "labelFontSize": 7,
                            "labelExpr": "datum.value % 2.5 === 0 ? datum.label : ''",
                            "tickOpacity": {"condition": {"test": "datum.value % 2.5 === 0", "value": 1}, "value": 0},
                            "gridColor": {"condition": {"test": "datum.value % 2.5 === 0", "value": "#e6e6e6"}, "value": "#f2f2f2"}}},
                        "y": {"field": "PC4", "type": "quantitative", "title": "PC4", "scale": {"domain": [-5.5, 5.5], "nice": false, "zero": false},
                          "axis": {"values": [-5, -3.75, -2.5, -1.25, 0, 1.25, 2.5, 3.75, 5], "tickCount": 20, "format": ".1f", "labelFontSize": 7,
                            "labelExpr": "datum.value % 2.5 === 0 ? datum.label : ''",
                            "tickOpacity": {"condition": {"test": "datum.value % 2.5 === 0", "value": 1}, "value": 0},
                            "gridColor": {"condition": {"test": "datum.value % 2.5 === 0", "value": "#e6e6e6"}, "value": "#f2f2f2"}}}}},
                    {"data": {"name": "cut"}, "mark": {"type": "rule", "color": "#222222", "strokeWidth": 1, "strokeDash": [1, 2]},
                      "encoding": {"x": {"field": "v", "type": "quantitative", "title": "PC3", "scale": {"domain": [-5.5, 5.5], "nice": false, "zero": false}}}},
                    {"data": {"name": "cut"}, "mark": {"type": "rule", "color": "#222222", "strokeWidth": 1, "strokeDash": [1, 2]},
                      "encoding": {"y": {"field": "v", "type": "quantitative", "title": "PC4", "scale": {"domain": [-5.5, 5.5], "nice": false, "zero": false}}}}
                  ]
                }
              ]
            }
          ]
        }
      ]
    },
    {
      "spacing": 16,
      "resolve": {"scale": {"color": "independent"}, "legend": {"color": "independent"}},
      "hconcat": [
        {
          "title": {"text": "(c)", "fontWeight": "bold", "anchor": "middle", "frame": "bounds", "dx": -133.1, "offset": -16},
          "vconcat": [
            {
              "title": {"text": "Variance explained after dropping outlier", "anchor": "middle", "frame": "bounds", "dx": 42, "offset": 17},
              "vconcat": [
                {
                  "width": 212,
                  "height": 278,
                  "data": {"name": "cumvar"},
                  "encoding": {
                    "x": {"field": "k", "type": "quantitative", "title": "Principal components",
                      "scale": {"domain": [-13.5, 329.5], "nice": false, "zero": false},
                      "axis": {"values": [0, 50, 100, 150, 200, 250, 300], "tickCount": 20, "format": "d",
                        "labelExpr": "datum.value % 100 === 0 ? datum.label : ''",
                        "labelAngle": 45, "labelAlign": "center", "labelBaseline": "middle", "labelPadding": 8,
                        "tickOpacity": {"condition": {"test": "datum.value % 100 === 0", "value": 1}, "value": 0},
                        "gridColor": {"condition": {"test": "datum.value % 100 === 0", "value": "#e6e6e6"}, "value": "#f2f2f2"}}},
                    "y": {"field": "v", "type": "quantitative", "title": "Cumulative variance explained",
                      "scale": {"domain": [0.0445, 1.0455], "nice": false, "zero": false},
                      "axis": {"values": [0.125, 0.25, 0.375, 0.5, 0.625, 0.75, 0.875, 1], "tickCount": 20, "format": ".2f",
                        "labelExpr": "datum.value * 4 % 1 === 0 ? datum.label : ''", "titlePadding": 4,
                        "tickOpacity": {"condition": {"test": "datum.value * 4 % 1 === 0", "value": 1}, "value": 0},
                        "gridColor": {"condition": {"test": "datum.value * 4 % 1 === 0", "value": "#e6e6e6"}, "value": "#f2f2f2"}}}
                  },
                  "layer": [
                    {"mark": {"type": "circle", "size": 22, "opacity": 0.65},
                      "encoding": {"color": {"field": "flag", "type": "nominal",
                        "scale": {"domain": ["FALSE", "TRUE"], "range": ["#1B9E77", "#D95F02"]},
                        "legend": {"title": null, "orient": "none", "legendX": 234, "legendY": 133}}}},
                    {"mark": {"type": "line", "color": "#000000", "strokeWidth": 0.9, "opacity": 0.8}}
                  ]
                }
              ]
            }
          ]
        },
        {
          "title": {"text": "(d)", "fontWeight": "bold", "anchor": "middle", "frame": "bounds", "dx": -85.3, "offset": -16},
          "vconcat": [
            {
              "title": {"text": "PCs after dropping outlier", "anchor": "middle", "frame": "bounds", "dx": 11.8, "offset": 17},
              "spacing": 6,
              "vconcat": [
                {
                  "spacing": 12,
                  "hconcat": [
                    {
                      "width": 117, "height": 128,
                      "layer": [
                        {"data": {"name": "pcs"}, "transform": [{"filter": "datum.PC2 < 5"}],
                          "mark": {"type": "circle", "size": 22, "color": "#000000", "opacity": 0.85},
                          "encoding": {
                            "x": {"field": "PC1", "type": "quantitative", "title": "PC1", "scale": {"domain": [-5.5, 5.5], "nice": false, "zero": false},
                              "axis": {"values": [-5, -3.75, -2.5, -1.25, 0, 1.25, 2.5, 3.75, 5], "tickCount": 20, "format": ".1f", "labelFontSize": 7,
                                "labelExpr": "datum.value % 2.5 === 0 ? datum.label : ''",
                                "tickOpacity": {"condition": {"test": "datum.value % 2.5 === 0", "value": 1}, "value": 0},
                                "gridColor": {"condition": {"test": "datum.value % 2.5 === 0", "value": "#e6e6e6"}, "value": "#f2f2f2"}}},
                            "y": {"field": "PC2", "type": "quantitative", "title": "PC2", "scale": {"domain": [-5.5, 5.5], "nice": false, "zero": false},
                              "axis": {"values": [-5, -3.75, -2.5, -1.25, 0, 1.25, 2.5, 3.75, 5], "tickCount": 20, "format": ".1f", "labelFontSize": 7,
                                "labelExpr": "datum.value % 2.5 === 0 ? datum.label : ''",
                                "tickOpacity": {"condition": {"test": "datum.value % 2.5 === 0", "value": 1}, "value": 0},
                                "gridColor": {"condition": {"test": "datum.value % 2.5 === 0", "value": "#e6e6e6"}, "value": "#f2f2f2"}}}}},
                        {"data": {"name": "cut"}, "mark": {"type": "rule", "color": "#222222", "strokeWidth": 1, "strokeDash": [1, 2]},
                          "encoding": {"x": {"field": "v", "type": "quantitative", "title": "PC1", "scale": {"domain": [-5.5, 5.5], "nice": false, "zero": false}}}},
                        {"data": {"name": "cut"}, "mark": {"type": "rule", "color": "#222222", "strokeWidth": 1, "strokeDash": [1, 2]},
                          "encoding": {"y": {"field": "v", "type": "quantitative", "title": "PC2", "scale": {"domain": [-5.5, 5.5], "nice": false, "zero": false}}}}
                      ]
                    },
                    {
                      "width": 117, "height": 128,
                      "layer": [
                        {"data": {"name": "pcs"}, "transform": [{"filter": "datum.PC2 < 5"}],
                          "mark": {"type": "circle", "size": 22, "color": "#000000", "opacity": 0.85},
                          "encoding": {
                            "x": {"field": "PC5", "type": "quantitative", "title": "PC5", "scale": {"domain": [-5.5, 5.5], "nice": false, "zero": false},
                              "axis": {"values": [-5, -3.75, -2.5, -1.25, 0, 1.25, 2.5, 3.75, 5], "tickCount": 20, "format": ".1f", "labelFontSize": 7,
                                "labelExpr": "datum.value % 2.5 === 0 ? datum.label : ''",
                                "tickOpacity": {"condition": {"test": "datum.value % 2.5 === 0", "value": 1}, "value": 0},
                                "gridColor": {"condition": {"test": "datum.value % 2.5 === 0", "value": "#e6e6e6"}, "value": "#f2f2f2"}}},
                            "y": {"field": "PC6", "type": "quantitative", "title": "PC6", "scale": {"domain": [-5.5, 5.5], "nice": false, "zero": false},
                              "axis": {"values": [-5, -3.75, -2.5, -1.25, 0, 1.25, 2.5, 3.75, 5], "tickCount": 20, "format": ".1f", "labelFontSize": 7,
                                "labelExpr": "datum.value % 2.5 === 0 ? datum.label : ''",
                                "tickOpacity": {"condition": {"test": "datum.value % 2.5 === 0", "value": 1}, "value": 0},
                                "gridColor": {"condition": {"test": "datum.value % 2.5 === 0", "value": "#e6e6e6"}, "value": "#f2f2f2"}}}}},
                        {"data": {"name": "cut"}, "mark": {"type": "rule", "color": "#222222", "strokeWidth": 1, "strokeDash": [1, 2]},
                          "encoding": {"x": {"field": "v", "type": "quantitative", "title": "PC5", "scale": {"domain": [-5.5, 5.5], "nice": false, "zero": false}}}},
                        {"data": {"name": "cut"}, "mark": {"type": "rule", "color": "#222222", "strokeWidth": 1, "strokeDash": [1, 2]},
                          "encoding": {"y": {"field": "v", "type": "quantitative", "title": "PC6", "scale": {"domain": [-5.5, 5.5], "nice": false, "zero": false}}}}
                      ]
                    }
                  ]
                },
                {
                  "width": 118, "height": 128,
                  "layer": [
                    {"data": {"name": "pcs"}, "transform": [{"filter": "datum.PC2 < 5"}],
                      "mark": {"type": "circle", "size": 22, "color": "#000000", "opacity": 0.85},
                      "encoding": {
                        "x": {"field": "PC3", "type": "quantitative", "title": "PC3", "scale": {"domain": [-5.5, 5.5], "nice": false, "zero": false},
                          "axis": {"values": [-5, -3.75, -2.5, -1.25, 0, 1.25, 2.5, 3.75, 5], "tickCount": 20, "format": ".1f", "labelFontSize": 7,
                            "labelExpr": "datum.value % 2.5 === 0 ? datum.label : ''",
                            "tickOpacity": {"condition": {"test": "datum.value % 2.5 === 0", "value": 1}, "value": 0},
                            "gridColor": {"condition": {"test": "datum.value % 2.5 === 0", "value": "#e6e6e6"}, "value": "#f2f2f2"}}},
                        "y": {"field": "PC4", "type": "quantitative", "title": "PC4", "scale": {"domain": [-5.5, 5.5], "nice": false, "zero": false},
                          "axis": {"values": [-5, -3.75, -2.5, -1.25, 0, 1.25, 2.5, 3.75, 5], "tickCount": 20, "format": ".1f", "labelFontSize": 7,
                            "labelExpr": "datum.value % 2.5 === 0 ? datum.label : ''",
                            "tickOpacity": {"condition": {"test": "datum.value % 2.5 === 0", "value": 1}, "value": 0},
                            "gridColor": {"condition": {"test": "datum.value % 2.5 === 0", "value": "#e6e6e6"}, "value": "#f2f2f2"}}}}},
                    {"data": {"name": "cut"}, "mark": {"type": "rule", "color": "#222222", "strokeWidth": 1, "strokeDash": [1, 2]},
                      "encoding": {"x": {"field": "v", "type": "quantitative", "title": "PC3", "scale": {"domain": [-5.5, 5.5], "nice": false, "zero": false}}}},
                    {"data": {"name": "cut"}, "mark": {"type": "rule", "color": "#222222", "strokeWidth": 1, "strokeDash": [1, 2]},
                      "encoding": {"y": {"field": "v", "type": "quantitative", "title": "PC4", "scale": {"domain": [-5.5, 5.5], "nice": false, "zero": false}}}}
                  ]
                }
              ]
            }
          ]
        }
      ]
    }
  ],
  "config": {
    "font": "Liberation Sans",
    "view": {"stroke": "#808080", "strokeWidth": 1},
    "axis": {
      "domain": false, "tickColor": "#333333", "tickSize": 3, "tickWidth": 0.8,
      "gridWidth": 0.8, "labelFontSize": 7.7, "labelColor": "#4d4d4d", "labelPadding": 2,
      "labelFlush": false, "labelOverlap": false,
      "titleFontSize": 10, "titleFontWeight": "normal", "titleColor": "#000000", "titlePadding": 4
    },
    "legend": {
      "symbolType": "circle", "symbolSize": 20, "symbolOpacity": 0.5, "symbolStrokeWidth": 0,
      "labelFontSize": 8, "labelColor": "#333333", "rowPadding": 7, "labelOffset": 4, "padding": 0
    },
    "title": {"font": "Liberation Serif", "fontSize": 16, "fontWeight": "normal", "anchor": "middle", "frame": "bounds", "color": "#000000"}
  }
}
